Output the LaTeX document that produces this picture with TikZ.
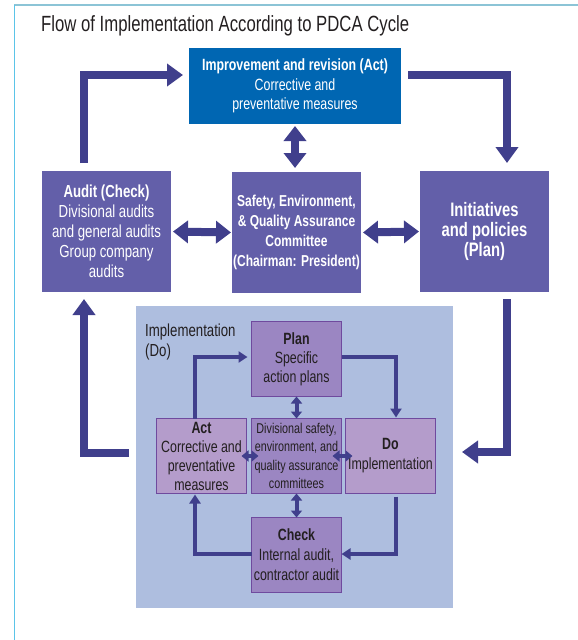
\documentclass[tikz,border=0pt]{standalone}
\usepackage{fontspec}
\setmainfont{Liberation Sans}[FakeStretch=0.76]
\usetikzlibrary{arrows.meta}
\definecolor{actblue}{HTML}{0066B2}
\definecolor{midpurple}{HTML}{635FA9}
\definecolor{arrowcol}{HTML}{403F8C}
\definecolor{panelblue}{HTML}{AEBEDF}
\definecolor{innerdark}{HTML}{9B86C2}
\definecolor{innerlight}{HTML}{B49CCB}
\definecolor{innerborder}{HTML}{6F4A9E}
\definecolor{textdark}{HTML}{231F20}
\definecolor{frameleft}{HTML}{5BC4E8}
\definecolor{frametop}{HTML}{8CC4D6}
\begin{document}
\begin{tikzpicture}[x=1pt,y=-1pt,
  box/.style={rectangle, inner sep=0pt, outer sep=0pt, align=center, text=white},
  bigbox/.style={box, minimum width=129pt, minimum height=121pt, fill=midpurple},
  ibox/.style={rectangle, inner sep=0pt, outer sep=0pt, draw=innerborder, line width=0.9pt,
    minimum width=90pt, minimum height=75pt, align=center, text=textdark},
  big/.style={draw=arrowcol, line width=8pt, line join=miter, -{Triangle[width=22pt,length=16pt]}},
  bigboth/.style={draw=arrowcol, line width=8pt, {Triangle[width=22pt,length=15pt]}-{Triangle[width=22pt,length=15pt]}},
  cyc/.style={draw=arrowcol, line width=4pt, line join=miter, -{Triangle[width=11pt,length=9pt]}},
  smallboth/.style={draw=arrowcol, line width=4pt, {Triangle[width=11pt,length=7pt]}-{Triangle[width=11pt,length=7pt]}}
]
\useasboundingbox (0,0) rectangle (578,640);
% frame
\draw[frametop, line width=1.5pt] (14,5) -- (578,5);
\draw[frameleft, line width=1.5pt] (14.5,4.5) -- (14.5,640);
% title
\node[anchor=base west, inner sep=0pt, font=\fontsize{22}{25}\selectfont, text=textdark] (title) at (41,31)
  {Flow of Implementation According to PDCA Cycle};
% top-level boxes
\node[box, fill=actblue, minimum width=212pt, minimum height=76pt, font=\fontsize{16.3}{19.5}\selectfont] (act) at (295,86)
  {\textbf{Improvement and revision (Act)}\\Corrective and\\preventative measures};
\node[bigbox, font=\fontsize{17.4}{20}\selectfont] (audit) at (106.5,231.5)
  {\textbf{Audit (Check)}\\Divisional audits\\and general audits\\Group company\\audits};
\node[bigbox, font=\bfseries\fontsize{15.8}{20}\selectfont] (comm) at (296.5,232.5)
  {Safety, Environment,\\\& Quality Assurance\\Committee\\(Chairman: President)};
\node[bigbox, font=\bfseries\fontsize{19.5}{20}\selectfont] (plan) at (484.5,231.5)
  {Initiatives\\and policies\\(Plan)};
% implementation panel
\node[fill=panelblue, inner sep=0pt, outer sep=0pt, minimum width=317pt, minimum height=302pt] (panel) at (294.5,457) {};
\node[anchor=north west, align=left, inner sep=0pt, text=textdark, font=\fontsize{17.4}{20}\selectfont] (impl) at (145,324)
  {Implementation\\(Do)};
% inner boxes
\node[ibox, fill=innerdark, font=\fontsize{16.3}{19}\selectfont] (iplan) at (296.5,359)
  {\textbf{Plan}\\Specific\\action plans};
\node[ibox, fill=innerlight, font=\fontsize{16.3}{19}\selectfont] (iact) at (201.5,456)
  {\textbf{Act}\\Corrective and\\preventative\\measures};
\node[ibox, fill=innerdark, font=\fontsize{14.2}{18.5}\selectfont] (icom) at (296.5,456)
  {Divisional safety,\\environment, and\\quality assurance\\committees};
\node[ibox, fill=innerlight, font=\fontsize{16.3}{20}\selectfont] (ido) at (390.5,456)
  {\textbf{Do}\\Implementation};
\node[ibox, fill=innerdark, font=\fontsize{16.3}{20}\selectfont] (icheck) at (296.5,555)
  {\textbf{Check}\\Internal audit,\\contractor audit};
% big cycle arrows
\draw[big, shorten <=8pt, shorten >=6pt] (audit.north -| 84,0) |- (act.west |- 0,75);
\draw[big, shorten <=7pt, shorten >=8pt] (act.east |- 0,75) -| (plan.north -| 507,0);
\draw[big, shorten <=7pt, shorten >=9pt] (plan.south -| 507,0) |- (panel.east |- 0,452);
\draw[big, shorten <=7pt, shorten >=7pt] (panel.west |- 0,453) -| (audit.south -| 84,0);
% big double arrows
\draw[bigboth, shorten <=2pt, shorten >=4pt] (act.south) -- (act.south |- comm.north);
\draw[bigboth, shorten <=2pt, shorten >=1pt] (audit.east) -- (comm.west);
\draw[bigboth, shorten <=2pt, shorten >=1pt] (comm.east) -- (plan.west);
% inner cycle arrows
\draw[cyc, shorten >=4pt] (iact.north -| 195,0) |- (iplan.west |- 0,357);
\draw[cyc, shorten >=1pt] (iplan.east |- 0,357) -| (ido.north -| 396,0);
\draw[cyc, shorten <=3pt] (ido.south -| 396,0) |- (icheck.east |- 0,554);
\draw[cyc, shorten >=1pt] (icheck.west |- 0,554) -| (iact.south -| 195,0);
% inner double arrows
\draw[smallboth] (iplan.south) -- (icom.north);
\draw[smallboth] (icom.south) -- (icheck.north);
\draw[smallboth, shorten <=-5pt, shorten >=-7pt] (iact.east) -- (icom.west);
\draw[smallboth, shorten <=-9pt, shorten >=-7pt] (icom.east) -- (ido.west);
\end{tikzpicture}
\end{document}
